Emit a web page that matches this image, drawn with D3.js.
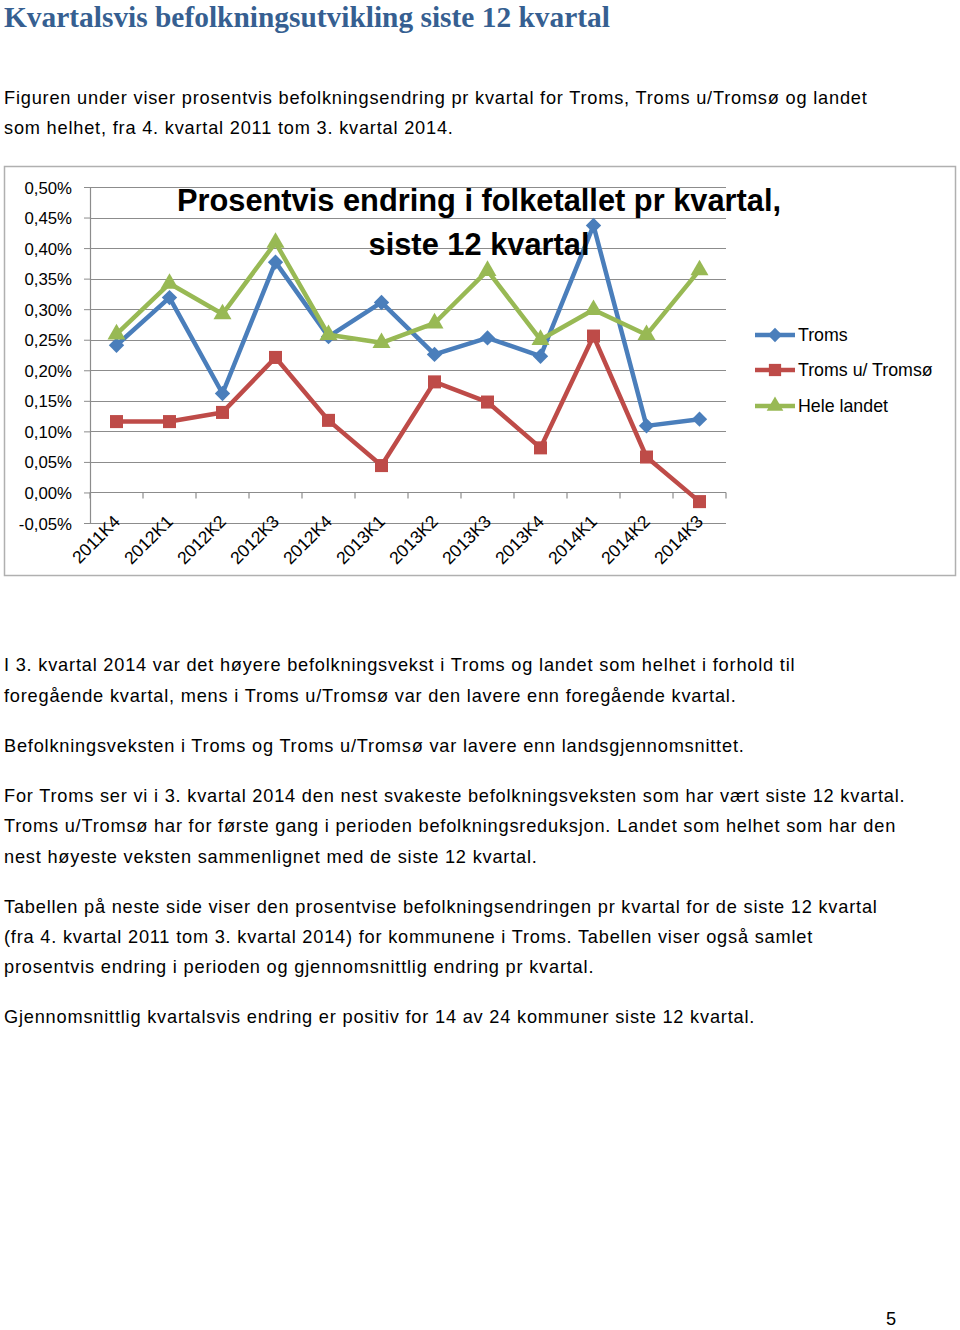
<!DOCTYPE html>
<html><head><meta charset="utf-8">
<script src="https://cdn.jsdelivr.net/npm/d3@7"></script>
<style>
html,body{margin:0;padding:0;background:#fff;}
svg{display:block;}
</style></head>
<body>
<svg id="page" width="960" height="1330"></svg>
<script>
// ---------- data ----------
const categories = ["2011K4","2012K1","2012K2","2012K3","2012K4","2013K1","2013K2","2013K3","2013K4","2014K1","2014K2","2014K3"];
const troms      = [0.241,0.319,0.162,0.377,0.255,0.311,0.226,0.253,0.223,0.437,0.109,0.120];
const tromsUten  = [0.116,0.116,0.131,0.221,0.118,0.044,0.181,0.148,0.073,0.256,0.058,-0.015];
const heleLandet = [0.259,0.342,0.292,0.409,0.258,0.245,0.277,0.363,0.250,0.299,0.258,0.364];
const seriesNames = ["Troms","Troms u/ Tromsø","Hele landet"];
const yTicks = [-0.05,0,0.05,0.10,0.15,0.20,0.25,0.30,0.35,0.40,0.45,0.50];
const pageTitle = "Kvartalsvis befolkningsutvikling siste 12 kvartal";
const chartTitle = ["Prosentvis endring i folketallet pr kvartal,","siste 12 kvartal"];
const introLines = ["Figuren under viser prosentvis befolkningsendring pr kvartal for Troms, Troms u/Tromsø og landet",
                    "som helhet, fra 4. kvartal 2011 tom 3. kvartal 2014."];
const bodyLines = [
  {t:"I 3. kvartal 2014 var det høyere befolkningsvekst i Troms og landet som helhet i forhold til", y:665},
  {t:"foregående kvartal, mens i Troms u/Tromsø var den lavere enn foregående kvartal.", y:696},
  {t:"Befolkningsveksten i Troms og Troms u/Tromsø var lavere enn landsgjennomsnittet.", y:746},
  {t:"For Troms ser vi i 3. kvartal 2014 den nest svakeste befolkningsveksten som har vært siste 12 kvartal.", y:796},
  {t:"Troms u/Tromsø har for første gang i perioden befolkningsreduksjon. Landet som helhet som har den", y:826},
  {t:"nest høyeste veksten sammenlignet med de siste 12 kvartal.", y:857},
  {t:"Tabellen på neste side viser den prosentvise befolkningsendringen pr kvartal for de siste 12 kvartal", y:907},
  {t:"(fra 4. kvartal 2011 tom 3. kvartal 2014) for kommunene i Troms. Tabellen viser også samlet", y:937},
  {t:"prosentvis endring i perioden og gjennomsnittlig endring pr kvartal.", y:967},
  {t:"Gjennomsnittlig kvartalsvis endring er positiv for 14 av 24 kommuner siste 12 kvartal.", y:1017}
];

// ---------- page ----------
const svg = d3.select("#page");
const bodyFont = "'Liberation Sans', Arial, sans-serif";
const bodySize = 18.2, bodySpacing = 0.8;

svg.append("text").attr("x",4).attr("y",27)
  .attr("font-family","'Liberation Serif', 'DejaVu Serif', serif")
  .attr("font-weight","bold").attr("font-size",29.4).attr("fill","#365f91")
  .text(pageTitle);

introLines.forEach((t,i)=>{
  svg.append("text").attr("x",4).attr("y",104+i*30)
    .attr("font-family",bodyFont).attr("font-size",bodySize).attr("letter-spacing",bodySpacing)
    .attr("fill","#000").text(t);
});
bodyLines.forEach(d=>{
  svg.append("text").attr("x",4).attr("y",d.y+6)
    .attr("font-family",bodyFont).attr("font-size",bodySize).attr("letter-spacing",bodySpacing)
    .attr("fill","#000").text(d.t);
});
svg.append("text").attr("x",886).attr("y",1325)
  .attr("font-family",bodyFont).attr("font-size",bodySize).attr("fill","#000").text("5");

// ---------- chart frame ----------
svg.append("rect").attr("x",4.5).attr("y",166.5).attr("width",951).attr("height",409)
  .attr("fill","#fff").attr("stroke","#b0b0b0").attr("stroke-width",1.5);

const plot = {left:90, right:726, top:187, bottom:523};
const x = d3.scaleBand().domain(categories).range([plot.left, plot.right]);
const y = d3.scaleLinear().domain([-0.05,0.50]).range([plot.bottom, plot.top]);

const g = svg.append("g");

// gridlines
g.selectAll("line.grid").data(yTicks).join("line")
  .attr("x1",plot.left).attr("x2",plot.right)
  .attr("y1",d=>Math.round(y(d))+0.5).attr("y2",d=>Math.round(y(d))+0.5)
  .attr("stroke","#8c8c8c").attr("stroke-width",1.2);

// y axis
const yAxis = d3.axisLeft(y).tickValues(yTicks).tickSize(6)
  .tickFormat(d=>d3.format(".2f")(d).replace(".",",").replace("−","-")+"%");
const ya = g.append("g").attr("transform",`translate(${plot.left},0)`).call(yAxis);
ya.select(".domain").attr("stroke","#8c8c8c").attr("stroke-width",1.2);
ya.selectAll(".tick line").attr("stroke","#8c8c8c");
ya.selectAll(".tick text").attr("font-family",bodyFont).attr("font-size",16.8)
  .attr("fill","#000").attr("x",-18).attr("dy","0.36em");

// x axis at zero with tick marks at band boundaries
const xa = g.append("g").attr("transform",`translate(0,${Math.round(y(0))+0.5})`);
xa.append("line").attr("x1",plot.left).attr("x2",plot.right).attr("stroke","#8c8c8c").attr("stroke-width",1.2);
const bounds = categories.map(c=>x(c)).concat([x(categories[categories.length-1])+x.bandwidth()]);
xa.selectAll("line.tk").data(bounds).join("line")
  .attr("x1",d=>d).attr("x2",d=>d).attr("y1",0).attr("y2",6)
  .attr("stroke","#8c8c8c").attr("stroke-width",1.2);

// x labels (low position)
g.selectAll("text.xl").data(categories).join("text")
  .attr("transform",d=>`translate(${x(d)+x.bandwidth()/2-4},${plot.bottom-9}) rotate(-45)`)
  .attr("text-anchor","end").attr("dy","0.7em")
  .attr("font-family",bodyFont).attr("font-size",17.5).attr("fill","#000").text(d=>d);

// chart title
chartTitle.forEach((t,i)=>{
  svg.append("text").attr("x",479).attr("y",211+i*44).attr("text-anchor","middle")
    .attr("font-family",bodyFont).attr("font-weight","bold").attr("font-size",30.8)
    .attr("fill","#000").text(t);
});

// series
const series = [
  {name:seriesNames[0], values:troms, color:"#4a7ebb", marker:"diamond"},
  {name:seriesNames[1], values:tromsUten, color:"#be4b48", marker:"square"},
  {name:seriesNames[2], values:heleLandet, color:"#98b954", marker:"triangle"}
];
const line = d3.line().x((d,i)=>x(categories[i])+x.bandwidth()/2).y(d=>y(d));
const symbolFor = m => m==="diamond" ? d3.symbol().type(d3.symbolDiamond2).size(150)
                     : m==="square" ? d3.symbol().type(d3.symbolSquare).size(170)
                     : d3.symbol().type(d3.symbolTriangle).size(140);

series.forEach(s=>{
  g.append("path").datum(s.values).attr("d",line)
    .attr("fill","none").attr("stroke",s.color).attr("stroke-width",4.5)
    .attr("stroke-linejoin","round");
  g.selectAll(null).data(s.values).join("path")
    .attr("transform",(d,i)=>`translate(${x(categories[i])+x.bandwidth()/2},${y(d)})`)
    .attr("d",symbolFor(s.marker)()).attr("fill",s.color);
});

// legend
const legY = [335,370,406];
series.forEach((s,i)=>{
  const lg = svg.append("g").attr("transform",`translate(755,${legY[i]})`);
  lg.append("line").attr("x1",0).attr("x2",40).attr("y1",0).attr("y2",0)
    .attr("stroke",s.color).attr("stroke-width",4.5);
  lg.append("path").attr("transform","translate(20,0)")
    .attr("d",(s.marker==="diamond"?d3.symbol().type(d3.symbolDiamond2).size(130)
             : s.marker==="square"?d3.symbol().type(d3.symbolSquare).size(150)
             : d3.symbol().type(d3.symbolTriangle).size(120))()).attr("fill",s.color);
  lg.append("text").attr("x",43).attr("y",0).attr("dy","0.36em")
    .attr("font-family",bodyFont).attr("font-size",17.8).attr("fill","#000").text(s.name);
});
</script>
</body></html>
